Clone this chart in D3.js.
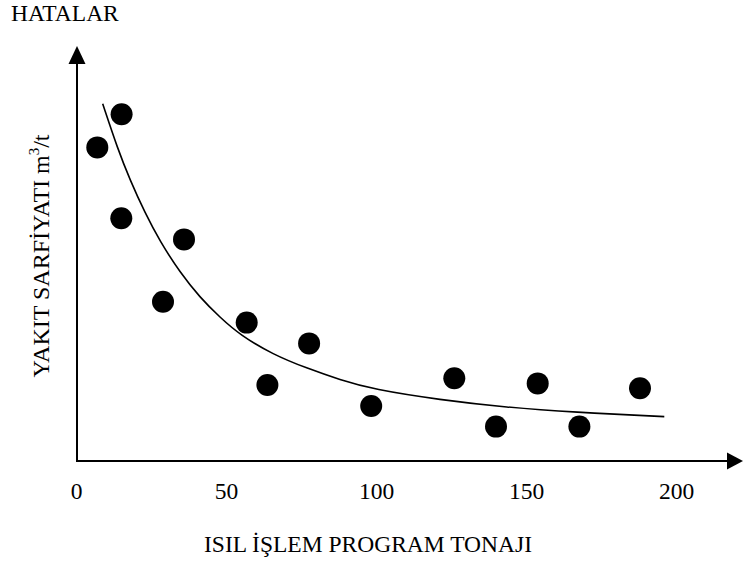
<!DOCTYPE html>
<html>
<head>
<meta charset="utf-8">
<script src="https://cdn.jsdelivr.net/npm/d3@7"></script>
<style>
  html, body { margin: 0; padding: 0; background: #fff; }
  svg { display: block; }
  text { font-family: "Liberation Serif", "Times New Roman", serif; fill: #000; }
</style>
</head>
<body>
<svg id="chart" width="743" height="561"></svg>
<script>
// Heat-treatment program tonnage (x) vs. fuel consumption m3/t (y)
const tonnage     = [7.1, 15.2, 15.1, 29.0, 36.0, 56.9, 63.8, 77.7, 98.4, 126.1, 140.0, 153.9, 167.8, 188.0];
const consumption = [7.84, 8.67, 6.07, 3.98, 5.54, 3.46, 1.90, 2.94, 1.375, 2.07, 0.86, 1.94, 0.86, 1.82];

// Trend curve read along its length
const trendX = [8.9, 14.0, 18.0, 23.0, 28.0, 34.7, 41.3, 48.0, 54.7, 65.7, 76.9, 88.0, 99.1, 121.3, 143.6, 165.8, 196.1];
const trendY = [8.93, 7.78, 7.03, 6.2, 5.49, 4.71, 4.09, 3.59, 3.15, 2.66, 2.32, 2.03, 1.79, 1.53, 1.34, 1.22, 1.11];

const xTicks = [0, 50, 100, 150, 200];

const svg = d3.select("#chart");
const FONT = 23.5;

const x = d3.scaleLinear().domain([0, 200]).range([76, 676]);
const y = d3.scaleLinear().domain([0, 10]).range([461, 61]);

const axisX0 = 77;   // vertical axis position
const axisY0 = 461;  // horizontal axis position

// Axis lines with arrowheads
svg.append("line")
  .attr("x1", axisX0).attr("y1", axisY0)
  .attr("x2", axisX0).attr("y2", 62)
  .attr("stroke", "#000").attr("stroke-width", 2);
svg.append("path")
  .attr("d", d3.line()([[axisX0, 46], [axisX0 - 8.5, 64], [axisX0 + 8.5, 64]]) + "Z")
  .attr("fill", "#000");

svg.append("line")
  .attr("x1", axisX0 - 1).attr("y1", axisY0)
  .attr("x2", 728).attr("y2", axisY0)
  .attr("stroke", "#000").attr("stroke-width", 2);
svg.append("path")
  .attr("d", d3.line()([[743, axisY0], [727, axisY0 - 8.5], [727, axisY0 + 8.5]]) + "Z")
  .attr("fill", "#000");

// Tick labels only (no tick marks)
const gx = svg.append("g")
  .attr("transform", `translate(0,${axisY0})`)
  .call(d3.axisBottom(x).tickValues(xTicks).tickSize(0).tickPadding(21).tickFormat(d3.format("d")));
gx.select(".domain").remove();
gx.selectAll("text")
  .style("font-family", '"Liberation Serif", "Times New Roman", serif')
  .style("font-size", FONT + "px")
  .attr("fill", "#000");

// Trend curve
const trend = trendX.map((v, i) => [v, trendY[i]]);
svg.append("path")
  .datum(trend)
  .attr("fill", "none")
  .attr("stroke", "#000")
  .attr("stroke-width", 1.6)
  .attr("d", d3.line().x(d => x(d[0])).y(d => y(d[1])).curve(d3.curveBasis));

// Observations
const pts = tonnage.map((v, i) => [v, consumption[i]]);
svg.append("g").selectAll("circle")
  .data(pts)
  .join("circle")
  .attr("cx", d => x(d[0]))
  .attr("cy", d => y(d[1]))
  .attr("r", 11)
  .attr("fill", "#000");

// Titles
svg.append("text")
  .attr("x", 11).attr("y", 21)
  .style("font-size", FONT + "px")
  .text("HATALAR");

svg.append("text")
  .attr("x", 368).attr("y", 552)
  .attr("text-anchor", "middle")
  .style("font-size", FONT + "px")
  .text("ISIL İŞLEM PROGRAM TONAJI");

const yl = svg.append("text")
  .attr("transform", "translate(49,256) rotate(-90)")
  .attr("text-anchor", "middle")
  .style("font-size", "24px");
yl.append("tspan").text("YAKIT SARFİYATI m");
yl.append("tspan").attr("dy", -10).style("font-size", "15px").text("3");
yl.append("tspan").attr("dy", 10).text("/t");
</script>
</body>
</html>
